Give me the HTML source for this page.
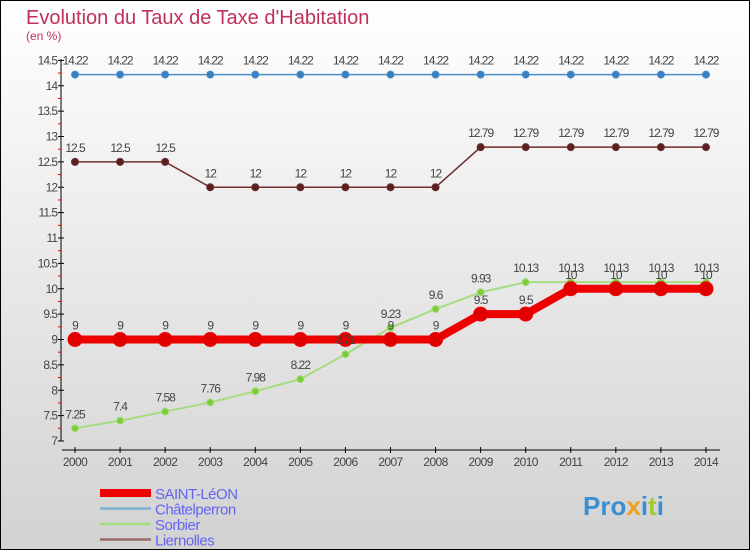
<!DOCTYPE html>
<html><head><meta charset="utf-8"><style>
body{margin:0;width:750px;height:550px;overflow:hidden}
#c{position:absolute;left:0;top:0;width:748px;height:548px;border:1px solid #000;background:linear-gradient(#ffffff,#d2d2d2)}
svg{position:absolute;left:0;top:0}
text{font-family:"Liberation Sans",sans-serif}
</style></head><body>
<div id="c"></div>
<svg width="750" height="550" id="s">
<text x="26" y="24" font-size="20" fill="#c0305a">Evolution du Taux de Taxe d'Habitation</text>
<text x="26" y="40" font-size="12" fill="#c0305a">(en %)</text>
</svg>
<script>
const years=[2000,2001,2002,2003,2004,2005,2006,2007,2008,2009,2010,2011,2012,2013,2014];
const saintLeon=[9,9,9,9,9,9,9,9,9,9.5,9.5,10,10,10,10];
const chatelperron=[14.22,14.22,14.22,14.22,14.22,14.22,14.22,14.22,14.22,14.22,14.22,14.22,14.22,14.22,14.22];
const sorbier=[7.25,7.4,7.58,7.76,7.98,8.22,8.71,9.23,9.6,9.93,10.13,10.13,10.13,10.13,10.13];
const liernolles=[12.5,12.5,12.5,12,12,12,12,12,12,12.79,12.79,12.79,12.79,12.79,12.79];
const yTicks=[7,7.5,8,8.5,9,9.5,10,10.5,11,11.5,12,12.5,13,13.5,14,14.5];
const s=document.getElementById('s');const NS='http://www.w3.org/2000/svg';
const x=i=>75+i*45.07;const y=v=>441-(v-7)*50.75;
function el(t,a,p){const e=document.createElementNS(NS,t);for(const k in a)e.setAttribute(k,a[k]);(p||s).appendChild(e);return e;}
let ax=el('line',{x1:61,y1:59,x2:61,y2:441,stroke:'#000','stroke-width':1});


let bx=el('line',{x1:62,y1:450,x2:720,y2:450,stroke:'#000','stroke-width':1});


yTicks.forEach((v,i)=>{
  el('line',{x1:58,x2:64,y1:y(v),y2:y(v),stroke:'#000'});
  if(i<yTicks.length-1)el('line',{x1:58,x2:61,y1:y(v+0.25),y2:y(v+0.25),stroke:'#e00'});
  const t=el('text',{x:57,y:y(v)+4,'font-size':12,fill:'#444','text-anchor':'end','letter-spacing':'-1'});t.textContent=String(v);
  
  
});
years.forEach((yr,i)=>{
  el('line',{x1:x(i),x2:x(i),y1:447,y2:453,stroke:'#000'});
  const t=el('text',{x:x(i),y:466,'font-size':12,fill:'#444','text-anchor':'middle','letter-spacing':'-0.6'});t.textContent=yr;
  
  
});
const labelLayer=[];
function series(data,name,color,dot,lw,r){
  const g=el('g',{});
  
  
  el('polyline',{points:data.map((v,i)=>x(i)+','+y(v)).join(' '),fill:'none',stroke:color,'stroke-width':lw},g);
  data.forEach((v,i)=>{
    const c=el('circle',{cx:x(i),cy:y(v),r:r,fill:dot,stroke:color,'stroke-width':1},g);
    
    
    labelLayer.push([name,i,v]);
  });
}
series(chatelperron,'chatelperron','#4a8fc8','#3a80c0',1.5,3.5);
series(liernolles,'liernolles','#6e2c2c','#5a2020',1.5,3.5);
series(sorbier,'sorbier','#a6dc80','#7ccc3a',2,3.5);
series(saintLeon,'saint-leon','#ee0000','#e00000',8,7);
labelLayer.forEach(([name,i,v])=>{
  const t=el('text',{x:x(i),y:y(v)-10,'font-size':12,fill:'#444','text-anchor':'middle','letter-spacing':'-1'});t.textContent=String(v);
  
  
});
const leg=[['SAINT-LéON','#ee0000',8],['Châtelperron','#80b0d0',2.5],['Sorbier','#a6dc80',2.5],['Liernolles','#9a6a6a',2.5]];
leg.forEach((l,i)=>{
  const yy=493+i*15.5;
  const g=el('g',{});
  
  
  el('line',{x1:100,x2:151,y1:yy,y2:yy,stroke:l[1],'stroke-width':l[2]},g);
  const t=el('text',{x:155,y:yy+6,'font-size':15,fill:'#6464f0','letter-spacing':'-0.5'},g);t.textContent=l[0];
});
const p=el('text',{x:583,y:515,'font-size':26,'font-weight':'bold',fill:'#3a8fd0'});
p.innerHTML='Pro<tspan fill="#f0a020">x</tspan>i<tspan fill="#a0c830">t</tspan>i';


</script>
</body></html>
